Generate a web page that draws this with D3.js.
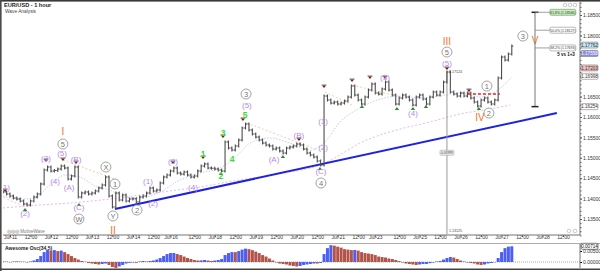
<!DOCTYPE html>
<html><head><meta charset="utf-8">
<script src="https://cdn.jsdelivr.net/npm/d3@7"></script>
<style>
body{margin:0;background:#fff}
svg{display:block}
text{font-family:"Liberation Sans",Arial,sans-serif}
</style>
</head><body>
<svg id="c" width="600" height="271"></svg>
<script>
// ---------- DATA ----------
const title = "EUR/USD - 1 hour";
const subtitle = "Wave Analysis";
const startHour = -4;      // trading hours since Jul-11 00:00
const barStep = 2;         // hours per bar
const closes = [
1.14162,1.14113,1.14064,1.14015,1.13990,1.13941,1.13868,1.13843,1.13941,1.14039,
1.14113,1.14358,1.14701,1.14774,1.14676,1.14690,1.14725,1.14799,1.14750,1.14480,
1.14554,1.14774,1.14039,1.14137,1.14162,1.14113,1.14137,1.14186,1.14260,1.14333,
1.14529,1.14064,1.13794,1.14137,1.13966,1.14088,1.13941,1.13990,1.13995,1.13917,
1.14039,1.14064,1.14137,1.14260,1.14186,1.14211,1.14382,1.14529,1.14578,1.14676,
1.14750,1.14627,1.14603,1.14652,1.14578,1.14529,1.14554,1.14676,1.14799,1.14848,
1.14750,1.14745,1.14725,1.14701,1.14676,1.15387,1.15240,1.15191,1.15289,1.15436,
1.15730,1.15828,1.15681,1.15583,1.15509,1.15436,1.15362,1.15313,1.15289,1.15215,
1.15240,1.15166,1.15117,1.15240,1.15264,1.15289,1.15338,1.15313,1.15215,1.15117,
1.15068,1.15019,1.14921,1.14823,1.16514,1.16416,1.16342,1.16367,1.16318,1.16342,
1.16391,1.16489,1.16759,1.16538,1.16416,1.16318,1.16489,1.16661,1.16808,1.16587,
1.16563,1.16685,1.16857,1.16661,1.16538,1.16318,1.16465,1.16538,1.16489,1.16416,
1.16293,1.16489,1.16538,1.16440,1.16318,1.16489,1.16612,1.16538,1.16612,1.16857,
1.17102,1.16612,1.16563,1.16514,1.16587,1.16514,1.16587,1.16465,1.16367,1.16269,
1.16416,1.16465,1.16367,1.16318,1.16416,1.16955,1.17469,1.17396,1.17543,1.17738
];
const osc = [
0.00023,0.00014,-0.00014,0.00018,0.00027,0.00018,0.00014,-0.00018,0.00023,0.00068,
0.00135,0.0027,0.0045,0.0054,0.00518,0.0054,0.00495,0.00518,0.0045,0.0036,
0.0027,0.0018,0.00113,0.00045,0.00014,-0.00045,-0.00068,-0.0009,-0.00113,-0.0009,
-0.00068,-0.00135,-0.00225,-0.0027,-0.00203,-0.00135,-0.00068,-0.00036,-0.00023,-0.00036,
0.00023,0.00045,0.00023,0.00045,0.00068,0.00113,0.0018,0.0027,0.0036,0.00405,
0.00408,0.0036,0.00315,0.00248,0.0018,0.00135,0.0009,0.00068,0.00072,0.0009,
0.00068,0.00045,0.00068,0.0009,0.00135,0.00315,0.00405,0.0045,0.00448,0.00495,
0.00563,0.00608,0.00585,0.0054,0.00473,0.00405,0.00315,0.00248,0.00158,0.00068,
-0.00023,-0.00068,-0.0009,-0.00113,-0.00158,-0.0018,-0.00203,-0.0018,-0.00135,-0.00113,
-0.0009,-0.00068,-0.0007,-0.00045,0.0036,0.0063,0.00765,0.00743,0.00698,0.00653,
0.00585,0.00563,0.0054,0.00545,0.00518,0.0045,0.00405,0.00383,0.0036,0.00315,
0.00248,0.00225,0.00203,0.00158,0.00135,0.0009,0.00045,-0.00023,-0.00068,-0.0009,
-0.00113,-0.00135,-0.00113,-0.0009,-0.00088,-0.00054,-0.00023,0.00023,0.00045,0.00113,
0.0018,0.00225,0.00203,0.00135,0.00068,0.00023,-0.00023,-0.00045,-0.00068,-0.00113,
-0.00135,-0.00113,-0.00068,-0.00045,-0.00014,0.0018,0.0045,0.0063,0.00698,0.00714
];
const tickHours = [0,12,24,36,48,60,72,84,94,108,120,132,144,156,168,180,192,204,214,228,240,252,264,276,288,300,312,324];
const tickLabels = ["Jul-11","12:00","Jul-12","12:00","Jul-13","12:00","Jul-14","12:00","Jul-16","12:00","Jul-18","12:00","Jul-19","12:00","Jul-20","12:00","Jul-21","12:00","Jul-23","12:00","Jul-25","12:00","Jul-26","12:00","Jul-27","12:00","Jul-28","12:00"];
const priceTicks = [1.135,1.14,1.145,1.15,1.155,1.16,1.165,1.18,1.185];
const oscTicks = [0,0.005];
// long moving average (pink dashed) [hour, price]
const maLong = [[-4.1,1.1377],[17.6,1.13843],[35.1,1.13892],[58.6,1.1399],[76.2,1.14088],[93.7,1.14186],[111.3,1.14284],[130.6,1.14431],[146.5,1.14529],[164,1.14652],[181.6,1.14823],[193.3,1.15068],[205,1.15362],[216.8,1.15558],[228.5,1.15705],[246,1.15877],[263.6,1.16073],[281.2,1.16195],[292.9,1.16293]];
// short moving average (light blue dashed)
const maShort = [[-4.1,1.14064],[5.9,1.1399],[14.6,1.14015],[23.4,1.14333],[32.2,1.14578],[41,1.14529],[49.8,1.14309],[58.6,1.14211],[67.4,1.14039],[76.2,1.14015],[87.9,1.14162],[99.6,1.14456],[111.3,1.14627],[123,1.1475],[131.8,1.14995],[140.6,1.15362],[152.3,1.15485],[164,1.15362],[175.7,1.15191],[184.5,1.15387],[193.3,1.15877],[205,1.1622],[216.8,1.1644],[228.5,1.16514],[240.2,1.16465],[251.9,1.16514],[263.6,1.16587],[275.3,1.16489],[284.1,1.16612],[294.1,1.16978]];
// orange dashed wave lines
const waveLines = [[[-5.9,1.14064],[8.8,1.13794]],[[31,1.14946],[62.7,1.14456]],[[138.8,1.15852],[180.4,1.15191]],[[184.5,1.16612],[200.4,1.16293]],[[200.4,1.16783],[231.4,1.16465]]];
const trendLine = [[61.5,1.13745],[320.4,1.16097]];
const resistance = [[268.3,1.16563],[287,1.16563]];
const parenLabels = [["(1)",-2.9,1.14284],["(2)",8.8,1.13647],["(3)",21.1,1.14995],["(4)",26.4,1.14431],["(5)",30.5,1.15117],["(A)",34.6,1.14284],["(B)",38.7,1.1497],["(C)",40.4,1.1377],["(1)",80.8,1.14407],["(2)",83.8,1.13892],["(3)",95.5,1.14921],["(4)",107.2,1.14284],["(5)",138.8,1.16293],["(A)",154.7,1.1497],["(B)",169.3,1.15558],["(C)",182.2,1.14652],["(1)",183.4,1.15901],["(2)",183.4,1.15264],["(3)",219.7,1.16978],["(4)",236.1,1.16097],["(5)",256,1.17322]];
const circleLabels = [["5",31,1.15338],["W",40.4,1.135],["X",56.2,1.14774],["Y",60.3,1.13574],["1",61.5,1.14358],["2",74.4,1.1372],["3",138.3,1.16563],["4",182.2,1.14382],["5",256,1.17592],["1",279.4,1.16759],["2",280.6,1.16097],["3",300.5,1.17984]];
const greenLabels = [["1",113.1,1.15093],["2",123.6,1.14554],["3",124.8,1.15607],["4",130.1,1.1497],["5",137.7,1.16048]];
const orangeLabels = [["I",31,1.15656],["II",60.3,1.1323],["III",256,1.17861],["IV",275.3,1.15999],["V",307.6,1.17886]];
const topMarks = [[-2.9,1.14137],[21.1,1.14872],[31,1.14897],[38.7,1.14823],[56.2,1.14627],[95.5,1.14823],[113.1,1.14946],[124.8,1.1546],[136.5,1.15877],[169.3,1.15387],[184,1.16685],[200.4,1.16832],[210.9,1.16906],[219.7,1.16906],[256,1.17126],[268.9,1.16587]];
const lowMarks = [[8.8,1.1377],[40.4,1.13892],[60.3,1.13672],[74.4,1.13868],[123.6,1.14652],[159.9,1.15068],[181.6,1.14774],[206.2,1.16293],[226.7,1.16244],[236.1,1.16244],[243.7,1.16293],[274.7,1.16244]];
const measureV = {hour:256, top:1.17124, bottom:1.13125, diff:"0.03999"};
const fibHour = 307.6, fibEnd = 316.3;
const fibLevels = [["61.8% (1.18566)",1.18566,"#c9eec0","#5a9a50"],["50.0% (1.18127)",1.18127,"#fff","#888"],["38.2% (1.17693)",1.17693,"#fff","#888"]];
const fibBase = 1.16254;
const fibNote = "5 vs 1+3";
const axisBoxes = [["1.17762",1.17762,"#c6e4f4","#333"],["1.17558",1.17558,"#8d8fd8","#fff"],["1.17203",1.17203,"#f2c0c0","#333"],["1.16998",1.16998,"#fff","#333"],["1.16254",1.16254,"#fff","#333"]];
const oscLast = ["0.00714",0.00714];
const oscTitle = "Awesome Osc(34,5)";
const brand = "MotiveWave";

// ---------- SCALES ----------
const svg = d3.select("#c");
const PL=3, PR=580, PT=2, PB=235;
const x = d3.scaleLinear().domain([0,324]).range([10,563]);
const y = d3.scaleLinear().domain([1.135,1.185]).range([219,15]);
const yo = d3.scaleLinear().domain([0,0.005]).range([262,251]);
const hours = closes.map((c,i)=>startHour+barStep*i);

svg.append("rect").attr("width",600).attr("height",271).attr("fill","#fff");
const defs = svg.append("defs");
defs.append("clipPath").attr("id","plot").append("rect").attr("x",PL).attr("y",PT).attr("width",PR-PL).attr("height",PB-PT);
defs.append("clipPath").attr("id","oscc").append("rect").attr("x",PL).attr("y",244).attr("width",PR-PL).attr("height",24);

const g = svg.append("g").attr("clip-path","url(#plot)");
const line = d3.line().x(d=>x(d[0])).y(d=>y(d[1]));
const smooth = d3.line().curve(d3.curveMonotoneX).x(d=>x(d[0])).y(d=>y(d[1]));

g.append("path").attr("d",smooth(maLong)).attr("fill","none").attr("stroke","#e3a6e3").attr("stroke-width",0.8).attr("stroke-dasharray","2,2");
g.append("path").attr("d",smooth(maShort)).attr("fill","none").attr("stroke","#a9c4f2").attr("stroke-width",0.8).attr("stroke-dasharray","1.5,1.5");
waveLines.forEach(l=>g.append("path").attr("d",line(l)).attr("fill","none").attr("stroke","#f6bf94").attr("stroke-width",0.8).attr("stroke-dasharray","2,2"));
g.append("path").attr("d",line(trendLine)).attr("stroke","#1f23e0").attr("stroke-width",2).attr("fill","none");

// measurement vertical
g.append("line").attr("x1",x(measureV.hour)).attr("x2",x(measureV.hour)).attr("y1",y(measureV.top)).attr("y2",y(measureV.bottom)).attr("stroke","#999").attr("stroke-width",1);

// candles
const cg = g.append("g").attr("stroke","#4d4d4d").attr("stroke-width",1.1);
closes.forEach((c,i)=>{
  const o = i>0?closes[i-1]:c;
  const xi = x(hours[i]);
  const hi = Math.max(o,c), lo = Math.min(o,c);
  cg.append("line").attr("x1",xi).attr("x2",xi).attr("y1",y(hi)-1.5).attr("y2",y(lo)+1.5);
  cg.append("line").attr("x1",xi-1.5).attr("x2",xi).attr("y1",y(o)).attr("y2",y(o));
  cg.append("line").attr("x1",xi).attr("x2",xi+1.5).attr("y1",y(c)).attr("y2",y(c));
});

// resistance dashed
g.append("path").attr("d",line(resistance)).attr("stroke","#e8201c").attr("stroke-width",1.5).attr("stroke-dasharray","3,2");

// markers
topMarks.forEach(d=>{const px=x(d[0]),py=y(d[1]);
  g.append("path").attr("d",`M${px-2},${py-3.5}L${px+2},${py-3.5}L${px},${py-1}Z`).attr("fill","#8a1010");
  g.append("line").attr("x1",px-2.5).attr("x2",px+2.5).attr("y1",py-4).attr("y2",py-4).attr("stroke","#444").attr("stroke-width",0.8);});
lowMarks.forEach(d=>{const px=x(d[0]),py=y(d[1]);
  g.append("path").attr("d",`M${px-2.2},${py+3}L${px+2.2},${py+3}L${px},${py}Z`).attr("fill","#2d8a2d");});

// labels
parenLabels.forEach(d=>g.append("text").attr("x",x(d[1])).attr("y",y(d[2])).attr("text-anchor","middle").attr("dominant-baseline","central").attr("font-size",8).attr("fill","#b38ae8").text(d[0]));
circleLabels.forEach(d=>{const px=x(d[1]),py=y(d[2]);
  g.append("circle").attr("cx",px).attr("cy",py).attr("r",5).attr("fill","#fff").attr("stroke","#8c8c8c").attr("stroke-width",0.8);
  g.append("text").attr("x",px).attr("y",py+0.3).attr("text-anchor","middle").attr("dominant-baseline","central").attr("font-size",7.5).attr("fill","#777").text(d[0]);});
greenLabels.forEach(d=>g.append("text").attr("x",x(d[1])).attr("y",y(d[2])).attr("text-anchor","middle").attr("dominant-baseline","central").attr("font-size",8.5).attr("font-weight","bold").attr("fill","#33dd33").text(d[0]));
orangeLabels.forEach(d=>g.append("text").attr("x",x(d[1])).attr("y",y(d[2])).attr("text-anchor","middle").attr("dominant-baseline","central").attr("font-size",10).attr("fill","#f07425").text(d[0]));

// measure texts
g.append("text").attr("x",x(measureV.hour)+2).attr("y",y(measureV.top)+2).attr("font-size",3.6).attr("fill","#444").text(measureV.top.toFixed(5));
g.append("text").attr("x",x(measureV.hour)+2).attr("y",y(measureV.bottom)-2).attr("font-size",3.6).attr("fill","#444").text(measureV.bottom.toFixed(5));
const my = (y(measureV.top)+y(measureV.bottom))/2;
g.append("rect").attr("x",x(measureV.hour)-7).attr("y",my-2.5).attr("width",14).attr("height",5).attr("rx",1).attr("fill","#eee").attr("stroke","#999").attr("stroke-width",0.5);
g.append("text").attr("x",x(measureV.hour)).attr("y",my+1.2).attr("text-anchor","middle").attr("font-size",3.3).attr("fill","#444").text(measureV.diff);

// fib tool
const fx=x(fibHour), fe=x(fibEnd);
g.append("line").attr("x1",fx).attr("x2",fx).attr("y1",y(fibLevels[0][1])).attr("y2",y(fibBase)).attr("stroke","#777").attr("stroke-width",1);
[fibLevels[0][1],fibBase].forEach(p=>g.append("line").attr("x1",fx-3.5).attr("x2",fx+3.5).attr("y1",y(p)).attr("y2",y(p)).attr("stroke","#222").attr("stroke-width",1.5));
fibLevels.forEach(d=>{const py=y(d[1]);
  g.append("line").attr("x1",fx).attr("x2",fe).attr("y1",py).attr("y2",py).attr("stroke","#888").attr("stroke-width",0.8);
  g.append("rect").attr("x",fe).attr("y",py-3).attr("width",26).attr("height",6).attr("rx",1.5).attr("fill",d[2]).attr("stroke",d[3]).attr("stroke-width",0.6);
  g.append("text").attr("x",fe+13).attr("y",py+1.3).attr("text-anchor","middle").attr("font-size",3.4).attr("fill","#333").text(d[0]);});
g.append("text").attr("x",fe+25).attr("y",y(fibLevels[2][1])+8).attr("text-anchor","end").attr("font-size",4.5).attr("font-weight","bold").attr("fill","#111").text(fibNote);
// small controls
[565,570,575].forEach(cx=>g.append("circle").attr("cx",cx).attr("cy",5).attr("r",1.8).attr("fill","none").attr("stroke","#aaa").attr("stroke-width",0.6));
[569,575].forEach(cx=>svg.append("circle").attr("cx",cx).attr("cy",231).attr("r",1.8).attr("fill","none").attr("stroke","#aaa").attr("stroke-width",0.6));

// price axis
const ya = svg.append("g").attr("transform",`translate(${PR},0)`).call(d3.axisRight(y).tickValues(priceTicks).tickSize(2).tickFormat(d3.format(".5f")));
const minor=[]; for(let k=1131;k<=1188;k++) minor.push(k/1000);
svg.append("g").attr("transform",`translate(${PR},0)`).call(d3.axisRight(y).tickValues(minor).tickSize(1.5).tickFormat(""));
svg.selectAll(".domain").remove();
ya.selectAll("text").attr("font-size",5).attr("fill","#333").attr("x",3);
svg.selectAll("g.tick line").attr("stroke","#555");
svg.append("line").attr("x1",PR).attr("x2",PR).attr("y1",PT).attr("y2",PB).attr("stroke","#777");
axisBoxes.forEach(d=>{const py=y(d[1]);
  svg.append("rect").attr("x",581).attr("y",py-3).attr("width",17).attr("height",6).attr("rx",1.2).attr("fill",d[2]).attr("stroke","#666").attr("stroke-width",0.5);
  svg.append("text").attr("x",589.5).attr("y",py+1.6).attr("text-anchor","middle").attr("font-size",4.6).attr("fill",d[3]).text(d[0]);});

// x axis
const xa = svg.append("g").attr("transform",`translate(0,${PB})`).call(d3.axisBottom(x).tickValues(tickHours).tickSize(2).tickFormat((d,i)=>tickLabels[i]));
xa.select(".domain").remove();
xa.selectAll("text").attr("font-size",5).attr("fill","#333").attr("dy","0.45em").attr("y",2);
xa.selectAll("line").attr("stroke","#555");
svg.append("line").attr("x1",PL).attr("x2",PR).attr("y1",PB).attr("y2",PB).attr("stroke","#777");
svg.append("line").attr("x1",0).attr("x2",600).attr("y1",243.5).attr("y2",243.5).attr("stroke","#999").attr("stroke-width",0.8);

// brand
svg.append("text").attr("x",7).attr("y",232.5).attr("font-size",4.5).attr("fill","#777").text("◎◎◎ "+brand);

// oscillator
const og = svg.append("g").attr("clip-path","url(#oscc)");
og.append("line").attr("x1",PL).attr("x2",PR).attr("y1",yo(0)).attr("y2",yo(0)).attr("stroke","#888").attr("stroke-width",0.7).attr("stroke-dasharray","1,1");
osc.forEach((v,i)=>{const up = i===0 ? true : v>=osc[i-1];
  og.append("rect").attr("x",x(hours[i])-1.5).attr("width",3.0).attr("y",Math.min(yo(v),yo(0))).attr("height",Math.abs(yo(v)-yo(0))).attr("fill",up?"#4c5ff2":"#b3544a");});
const oa = svg.append("g").attr("transform",`translate(${PR},0)`).call(d3.axisRight(yo).tickValues(oscTicks).tickSize(2).tickFormat(d3.format(".5f")));
oa.select(".domain").remove();
oa.selectAll("text").attr("font-size",5).attr("fill","#333").attr("x",3);
svg.append("line").attr("x1",PR).attr("x2",PR).attr("y1",244).attr("y2",268).attr("stroke","#777");
svg.append("rect").attr("x",581).attr("y",yo(oscLast[1])-3).attr("width",17).attr("height",6).attr("rx",1.2).attr("fill","#fff").attr("stroke","#333").attr("stroke-width",0.6);
svg.append("text").attr("x",589.5).attr("y",yo(oscLast[1])+1.6).attr("text-anchor","middle").attr("font-size",4.6).attr("fill","#111").text(oscLast[0]);
svg.append("text").attr("x",5).attr("y",249.5).attr("font-size",5).attr("font-weight","bold").attr("fill","#222").text(oscTitle);

// titles & frame
svg.append("text").attr("x",4).attr("y",7).attr("font-size",5.6).attr("font-weight","bold").attr("fill","#222").text(title);
svg.append("text").attr("x",5).attr("y",13).attr("font-size",4.8).attr("fill","#444").text(subtitle);
svg.append("rect").attr("x",0).attr("y",0).attr("width",600).attr("height",1.6).attr("fill","#3a3a3a");
svg.append("rect").attr("x",0).attr("y",0).attr("width",1.6).attr("height",271).attr("fill","#4a4a4a");
svg.append("rect").attr("x",0).attr("y",268.5).attr("width",600).attr("height",1.5).attr("fill","#444");
</script>
</body></html>
